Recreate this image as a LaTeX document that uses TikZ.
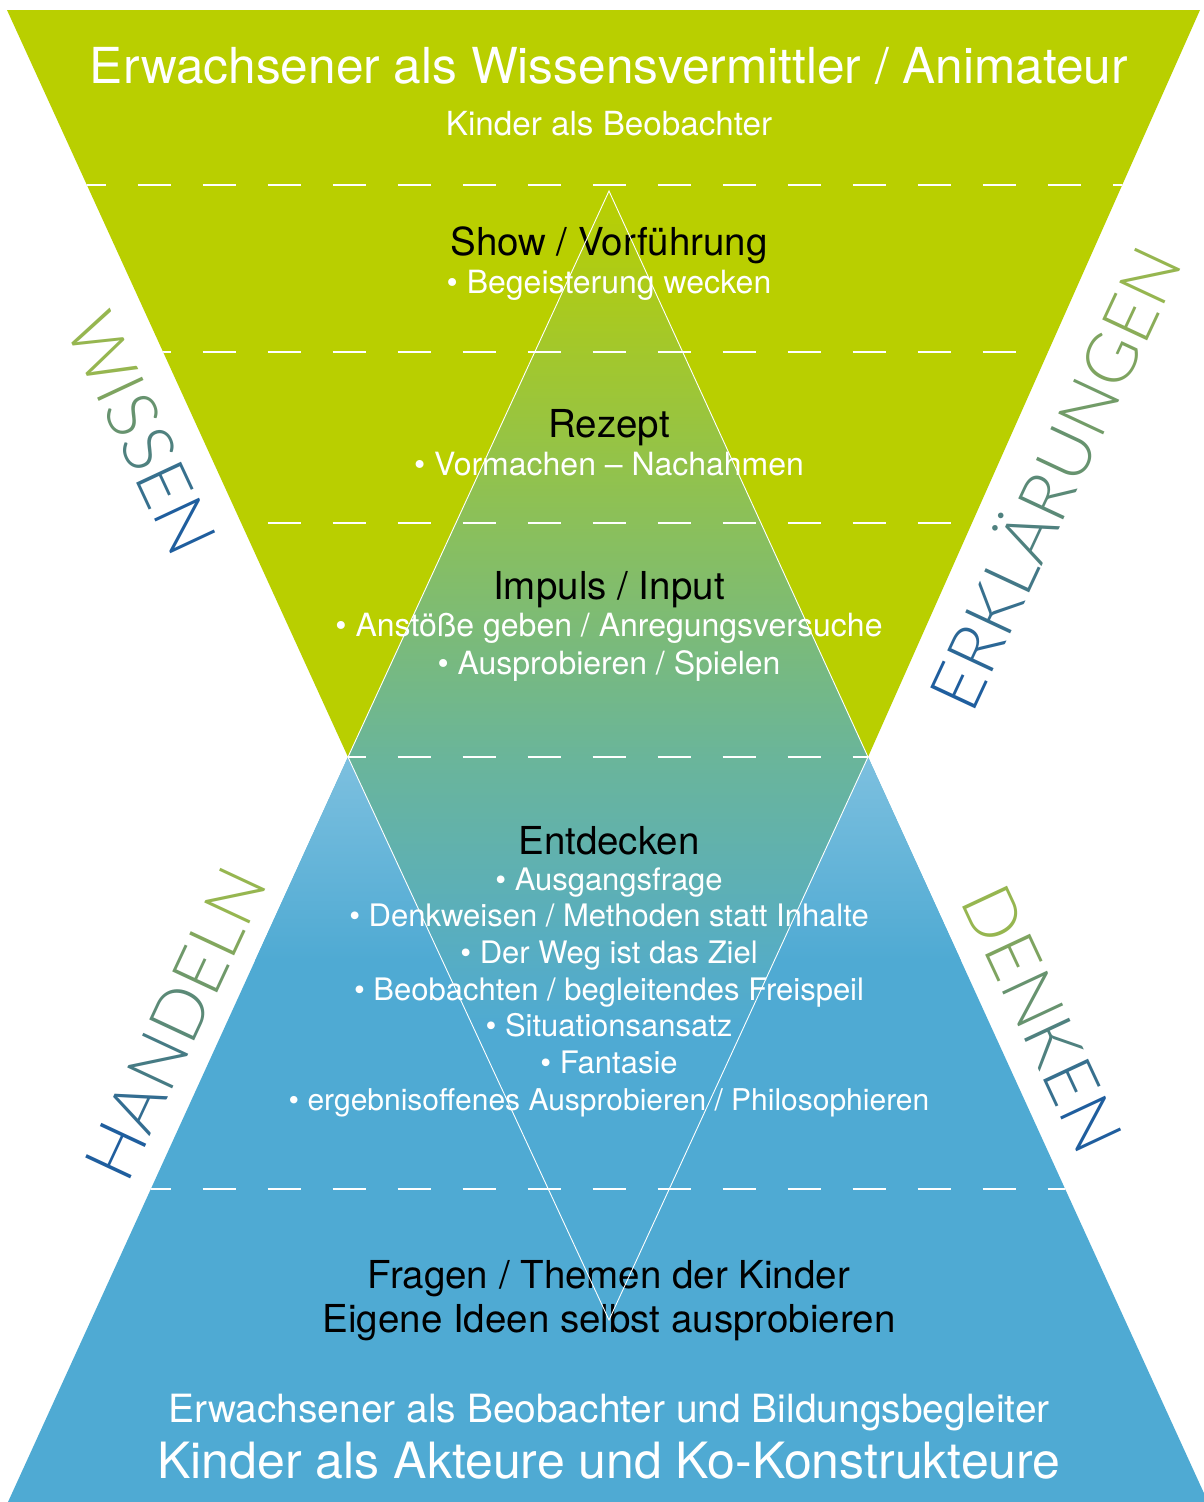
\documentclass[tikz,border=0pt]{standalone}
\usepackage{fontspec}
\setmainfont{TeX Gyre Heros}
\newfontfamily\thinfont{Lato Light}
\usetikzlibrary{positioning}

\definecolor{lime}{HTML}{B9CF00}
\definecolor{sky}{HTML}{4FAAD3}
\definecolor{pale}{HTML}{7DC0DF}
\definecolor{teal2}{HTML}{6AB59A}
\definecolor{leaf}{HTML}{96B650}
\definecolor{navy}{HTML}{1F5E9E}

\newcommand{\fl}[2]{{\color{navy!#1!leaf}#2}}

\begin{document}
\begin{tikzpicture}[
						x=1pt, y=-1pt,
						title/.style = {white, anchor=base, font=\fontsize{49.6}{58}\selectfont},
						sub/.style = {white, anchor=base, font=\fontsize{33.2}{39}\selectfont},
						head/.style = {black, anchor=base, font=\fontsize{38.5}{46}\selectfont},
						bul/.style = {white, anchor=base, font=\fontsize{32}{37}\selectfont},
						sbul/.style = {bul, font=\fontsize{31}{37}\selectfont},
						side/.style = {anchor=base, inner sep=0pt, font=\fontsize{70}{80}\thinfont},
						cut/.style = {white, line width=2.2pt, dash pattern=on 33pt off 32pt}
					]
\useasboundingbox (0,0) rectangle (1203,1502);
\fill[white] (0,0) rectangle (1203,1502);

\coordinate (dtop) at (609,191);
\coordinate (dleft) at (348,757);
\coordinate (dright) at (868,757);
\coordinate (dbot) at (609,1320);

\fill[lime] (7,10) -- (1200,10) -- (dright) -- (dleft) -- cycle;
\fill[sky] (dleft) -- (dright) -- (1208,1502) -- (8,1502) -- cycle;
\begin{scope}
\clip (dleft) -- (dright) -- (1208,1502) -- (8,1502) -- cycle;
\shade[top color=pale, bottom color=sky] (0,757) rectangle (1203,960);
\end{scope}
\begin{scope}
\clip (dtop) -- (dright) -- (dbot) -- (dleft) -- cycle;
\shade[top color=lime, bottom color=teal2] (340,191) rectangle (880,757);
\shade[top color=teal2, bottom color=sky] (340,757) rectangle (880,1030);
\end{scope}

\begin{scope}
\clip (7,10) -- (1200,10) -- (dright) -- (dleft) -- cycle
      (dleft) -- (dright) -- (1208,1502) -- (8,1502) -- cycle;
\foreach \y in {185,352,523,757,1189}
	\draw[cut] (7.5,\y) -- (1203,\y);
\end{scope}

\node[title] (adult) at (609,83) {Erwachsener als Wissensvermittler / Animateur};
\node[sub] (observe) at (609,135) {Kinder als Beobachter};
\node[head] (show) at (609,255) {Show / Vorführung};
\node[bul] (show1) at (609,293) {• Begeisterung wecken};
\node[head] (recipe) at (609,437) {Rezept};
\node[bul] (recipe1) at (609,475) {• Vormachen – Nachahmen};
\node[head] (impulse) at (609,599) {Impuls / Input};
\node[bul] (impulse1) at (609,636) {• Anstöße geben / Anregungsversuche};
\node[bul] (impulse2) at (609,674) {• Ausprobieren / Spielen};
\node[head] (discover) at (609,854) {Entdecken};
\foreach \t [count=\i] in {Ausgangsfrage, Denkweisen / Methoden statt Inhalte, Der Weg ist das Ziel, Beobachten / begleitendes Freispeil, Situationsansatz, Fantasie}
	\node[sbul] (discover\i) at (609,853.3+36.7*\i) {• \t};
\node[sbul, font=\fontsize{30}{37}\selectfont] (discover7) at (609,1110.2) {• ergebnisoffenes Ausprobieren / Philosophieren};
\node[head] (questions) at (609,1288) {Fragen / Themen der Kinder};
\node[head] (ideas) at (609,1332) {Eigene Ideen selbst ausprobieren};
\node[sub, font=\fontsize{38.9}{46}\selectfont] (companion) at (609,1422) {Erwachsener als Beobachter und Bildungsbegleiter};
\node[title, font=\fontsize{50}{58}\selectfont] (actors) at (609,1478) {Kinder als Akteure und Ko-Konstrukteure};

\node[side, rotate=-65] (wissen) at (119,444) {\fl{0}{W}\fl{20}{I}\fl{40}{S}\fl{60}{S}\fl{80}{E}\fl{100}{N}};
\node[side, rotate=65] (erkl) at (1078,489) {\fl{100}{E}\fl{90}{R}\fl{80}{K}\fl{70}{L}\fl{60}{Ä}\fl{50}{R}\fl{40}{U}\fl{30}{N}\fl{20}{G}\fl{10}{E}\fl{0}{N}};
\node[side, rotate=65] (handeln) at (198,1034) {\fl{100}{H}\fl{83}{A}\fl{67}{N}\fl{50}{D}\fl{33}{E}\fl{17}{L}\fl{0}{N}};
\node[side, rotate=-65] (denken) at (1020,1029) {\fl{0}{D}\fl{20}{E}\fl{40}{N}\fl{60}{K}\fl{80}{E}\fl{100}{N}};

\draw[white, line width=0.9pt] (dtop) -- (dright) -- (dbot) -- (dleft) -- cycle;
\end{tikzpicture}
\end{document}
